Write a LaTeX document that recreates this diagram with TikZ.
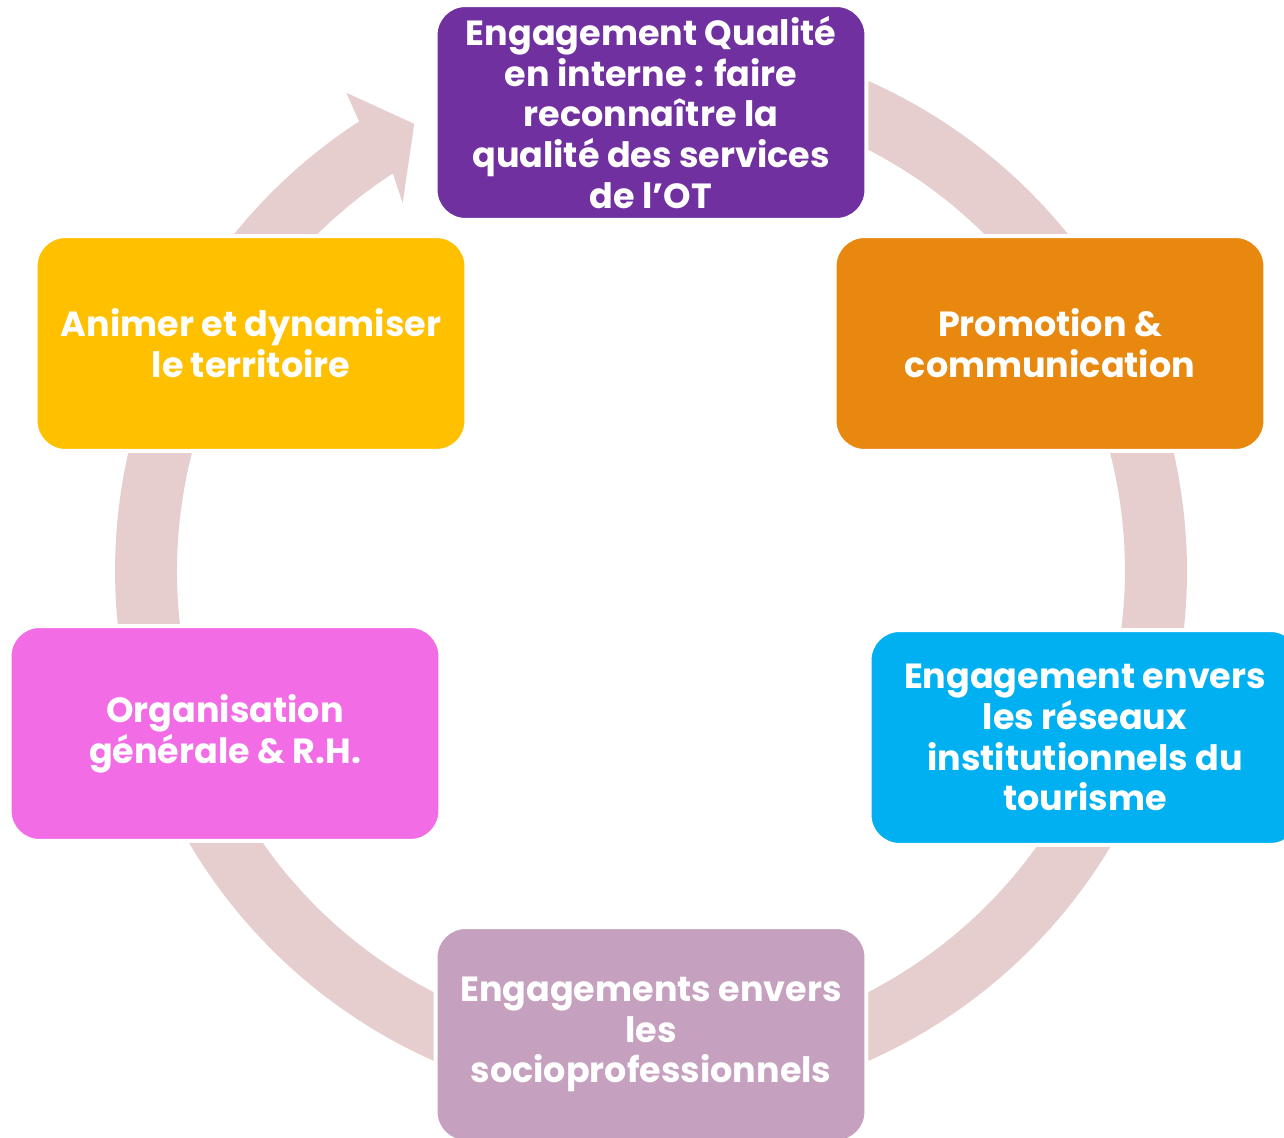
\documentclass[tikz,border=0pt]{standalone}
\usepackage{fontspec}
\setmainfont{Poppins}
\usepackage{tikz}
\usetikzlibrary{calc}
\usepackage{xcolor}
\definecolor{ringpink}{HTML}{E6CECE}
\definecolor{qualviolet}{HTML}{7030A0}
\definecolor{promorange}{HTML}{E8880F}
\definecolor{reseaucyan}{HTML}{00B0F0}
\definecolor{sociomauve}{HTML}{C6A0BF}
\definecolor{orgapink}{HTML}{F26CE6}
\definecolor{animjaune}{HTML}{FFC000}
\tikzstyle{stagebox} = [draw=white, line width=0.08cm, rectangle, rounded corners=0.6cm, minimum width=8.62cm, minimum height=4.3cm, inner sep=0pt, align=center, text=white, font=\bfseries\fontsize{19.9}{23.2}\selectfont]

\begin{document}
\begin{tikzpicture}[x=0.02cm, y=0.02cm]
\useasboundingbox (0,0) rectangle (1284,1137);
\coordinate (centre) at (651,566);
% ring with its arrow head
\fill[ringpink] ($(centre)+(100:536)$) arc[start angle=100, end angle=-237, radius=10.72cm]
    -- ($(centre)+(122.5:567)$) -- ($(centre)+(117.9:506)$) -- ($(centre)+(124:444)$)
    -- ($(centre)+(123:474)$) arc[start angle=-237, end angle=100, radius=9.48cm] -- cycle;
% the six stages
\node[stagebox, fill=qualviolet] (qualite) at (651,1024.5) {Engagement Qualité\\en interne : faire\\reconnaître la\\qualité des services\\de l’OT};
\node[stagebox, fill=promorange] (promotion) at (1050,793.5) {Promotion \&\\communication};
\node[stagebox, fill=reseaucyan] (reseaux) at (1085,399.5) {Engagement envers\\les réseaux\\institutionnels du\\tourisme};
\node[stagebox, fill=sociomauve] (socio) at (651,102.5) {Engagements envers\\les\\socioprofessionnels};
\node[stagebox, fill=orgapink] (organisation) at (225,403.5) {Organisation\\générale \& R.H.};
\node[stagebox, fill=animjaune] (animer) at (251,793.5) {Animer et dynamiser\\le territoire};
\end{tikzpicture}
\end{document}
